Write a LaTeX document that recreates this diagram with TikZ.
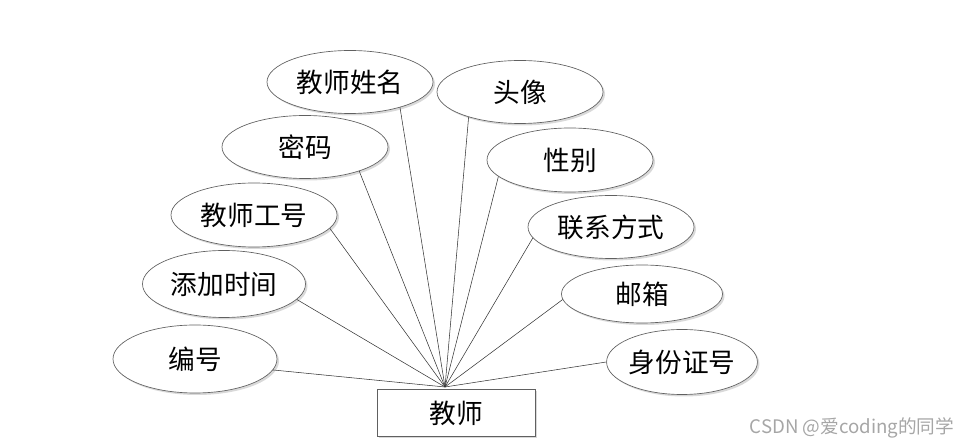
\documentclass[tikz,border=0pt]{standalone}
\usepackage{fontspec}
\newfontfamily\cjk{Noto Sans CJK SC}
\usetikzlibrary{shapes.geometric,shadows}
\begin{document}
\begin{tikzpicture}[x=0.75pt,y=-0.75pt,
  attr/.style={ellipse, draw=gray!75!black, line width=0.5pt, fill=white, inner sep=0pt,
    font=\cjk\fontsize{20}{24}\selectfont,
    drop shadow={shadow xshift=1.5pt, shadow yshift=-1.5pt, fill=gray!30, opacity=1}},
  ent/.style={rectangle, draw=gray!75!black, line width=0.5pt, fill=white, inner sep=0pt,
    font=\cjk\fontsize{20}{24}\selectfont,
    drop shadow={shadow xshift=1.5pt, shadow yshift=-1.5pt, fill=gray!30, opacity=1}},
  link/.style={draw=black!80, line width=0.4pt}]
\useasboundingbox (0,0) rectangle (972,448);

\node[attr, minimum width=124.5pt, minimum height=47.25pt] (xm) at (350,82) {教师姓名};
\node[attr, minimum width=124.5pt, minimum height=47.25pt] (tx) at (520,92) {头像};
\node[attr, minimum width=124.5pt, minimum height=47.25pt] (mm) at (305,147) {密码};
\node[attr, minimum width=124.5pt, minimum height=48pt] (xb) at (570,160) {性别};
\node[attr, minimum width=124.5pt, minimum height=48pt] (gh) at (254,215) {教师工号};
\node[attr, minimum width=124.5pt, minimum height=47.25pt] (lx) at (611,227) {联系方式};
\node[attr, minimum width=122.25pt, minimum height=50.25pt] (sj) at (224,284) {添加时间};
\node[attr, minimum width=120.75pt, minimum height=43.5pt] (yx) at (642,294) {邮箱};
\node[attr, minimum width=123pt, minimum height=51pt] (bh) at (195,359) {编号};
\node[attr, minimum width=107.25pt, minimum height=48.75pt] (sf) at (682,362) {身份证号};

\node[ent, minimum width=118.5pt, minimum height=35.25pt] (js) at (456,413) {教师};
\coordinate (hub) at (445,387);

\draw[link] (xm.-27) -- (hub);
\draw[link] (tx.-154) -- (hub);
\draw[link] (mm.-24) -- (hub);
\draw[link] (xb.-167) -- (hub);
\draw[link] (gh.-10) -- (hub);
\draw[link] (lx.-172) -- (hub);
\draw[link] (sj.-12) -- (hub);
\draw[link] (yx.-176) -- (hub);
\draw[link] (bh.-8) -- (hub);
\draw[link] (sf.180) -- (hub);

\node[font=\cjk\fontsize{14}{16}\selectfont, text=gray!70, inner sep=0pt] (wm) at (852,428) {CSDN @爱coding的同学};
\end{tikzpicture}
\end{document}
